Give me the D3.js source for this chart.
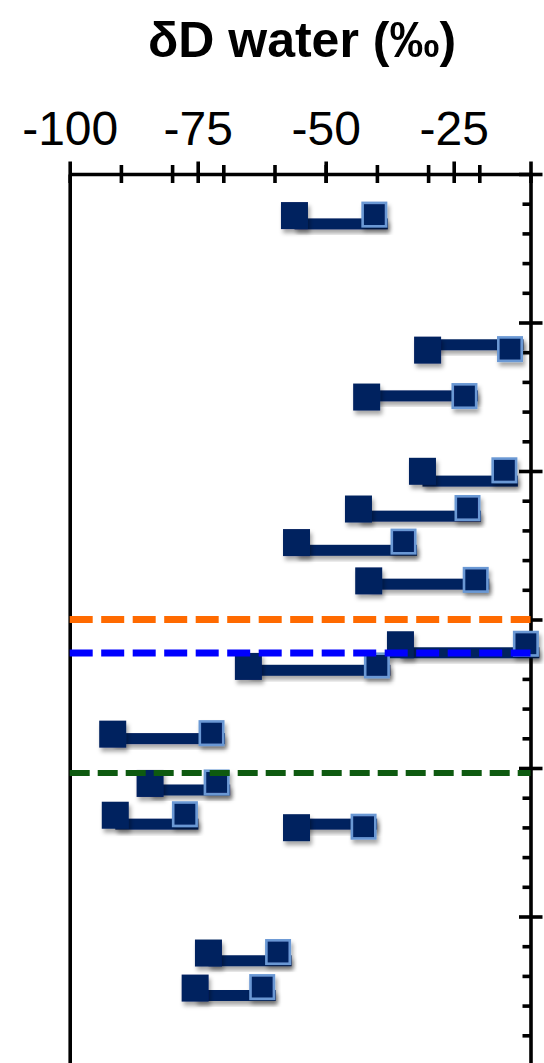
<!DOCTYPE html>
<html>
<head>
<meta charset="utf-8">
<script src="https://cdn.jsdelivr.net/npm/d3@7"></script>
<style>
  body { margin: 0; background: #fff; }
  svg { display: block; font-family: "Liberation Sans", Arial, Helvetica, sans-serif; }
</style>
</head>
<body>
<svg id="chart" width="544" height="1063"></svg>
<script>
// Sample depth of each pair (axis units, increasing downwards)
const depth    = [1.40, 5.93, 7.51, 10.01, 11.28, 12.41, 13.70, 15.85, 16.58, 18.86, 20.52, 21.59, 22.01, 26.23, 27.41];
// Depth at which the connecting bar of each pair sits
const barDepth = [1.68, 5.75, 7.47, 10.34, 11.52, 12.67, 13.81, 16.12, 16.71, 19.01, 20.74, 21.89, 21.89, 26.49, 27.66];
// δD of water (‰): first value of each pair (plain marker)
const dLow  = [-56.1, -30.1, -42.0, -31.1, -43.6, -55.7, -41.6, -35.4, -65.1, -91.6, -84.3, -91.1, -55.7, -72.9, -75.5];
// δD of water (‰): second value of each pair (outlined marker)
const dHigh = [-40.5, -14.0, -22.9, -15.1, -22.3, -34.8, -20.7, -10.9, -40.0, -72.3, -71.3, -77.5, -42.6, -59.3, -62.4];

// Horizontal reference levels
const refNames = ["orange", "blue", "green"];
const refDepth = [15.0, 16.13, 20.17];

// Axis ticks
const xDomain = [-100, -10];
const xMajorTicks = [-100, -75, -50, -25, -10];
const xMinorTicks = [-90, -80, -70, -60, -50, -40, -30, -20];
const xTickLabels = ["-100", "-75", "-50", "-25"];
const yDomain = [0, 30];
const yMajorTicks = [0, 5, 10, 15, 20, 25, 30];
const yMinorTicks = d3.range(1, 30).filter(v => v % 5 !== 0);

const title = "δD water (‰)";

// ---- layout & style ----
const svg = d3.select("#chart");
const plotLeft = 69.7, plotRight = 530.5, plotTop = 174, plotBottom = 1065;
const navy = "#03205f", edgeBlue = "#6a98d4";
const refColor = { orange: "#ff6a00", blue: "#0000ff", green: "#0e5a10" };
const refDash  = { orange: "23 8.5", blue: "23 8.5", green: "20 8" };
const refWidth = { orange: 7, blue: 7, green: 6 };

const x = d3.scaleLinear().domain(xDomain).range([plotLeft, plotRight]);
const y = d3.scaleLinear().domain(yDomain).range([plotTop, plotBottom]);

// soft drop shadow for the markers and bars
const defs = svg.append("defs");
const shadow = defs.append("filter").attr("id", "shadow")
  .attr("x", "-30%").attr("y", "-30%").attr("width", "160%").attr("height", "180%");
shadow.append("feDropShadow")
  .attr("dx", 2).attr("dy", 4).attr("stdDeviation", 2.2)
  .attr("flood-color", "#000").attr("flood-opacity", 0.35);

// Title
svg.append("text")
  .attr("x", 302).attr("y", 57)
  .attr("text-anchor", "middle")
  .attr("font-size", 50).attr("font-weight", "bold")
  .attr("fill", "#000")
  .text(title);

const axisStroke = 3.6;

// Top axis: minor ticks cross the line, major ticks reach higher
const gxMinor = svg.append("g").attr("transform", `translate(0,${plotTop})`)
  .call(d3.axisTop(x).tickValues(xMinorTicks).tickSize(0).tickSizeOuter(0).tickFormat(""));
gxMinor.select(".domain").attr("stroke", "#000").attr("stroke-width", axisStroke);
gxMinor.selectAll(".tick line").attr("y1", -9).attr("y2", 9)
  .attr("stroke", "#000").attr("stroke-width", axisStroke);

const gxMajor = svg.append("g").attr("transform", `translate(0,${plotTop})`)
  .call(d3.axisTop(x).tickValues(xMajorTicks).tickSize(0).tickSizeOuter(0)
    .tickFormat((d, i) => xTickLabels[i] || ""));
gxMajor.select(".domain").remove();
gxMajor.selectAll(".tick line").attr("y1", -12.5).attr("y2", 9)
  .attr("stroke", "#000").attr("stroke-width", axisStroke);
gxMajor.selectAll(".tick text")
  .attr("y", -29).attr("dy", 0)
  .attr("font-size", 48).attr("fill", "#000")
  .attr("font-family", "'Liberation Sans', Arial, Helvetica, sans-serif");

// Left axis: plain line
const gyLeft = svg.append("g").attr("transform", `translate(${plotLeft},0)`)
  .call(d3.axisLeft(y).tickValues([]).tickSizeOuter(0));
gyLeft.select(".domain").attr("stroke", "#000").attr("stroke-width", axisStroke);

// Right axis: minor ticks inside, major ticks across
const gyMinor = svg.append("g").attr("transform", `translate(${plotRight},0)`)
  .call(d3.axisRight(y).tickValues(yMinorTicks).tickSize(0).tickSizeOuter(0).tickFormat(""));
gyMinor.select(".domain").attr("stroke", "#000").attr("stroke-width", axisStroke);
gyMinor.selectAll(".tick line").attr("x1", -8).attr("x2", 0)
  .attr("stroke", "#000").attr("stroke-width", axisStroke);

const gyMajor = svg.append("g").attr("transform", `translate(${plotRight},0)`)
  .call(d3.axisRight(y).tickValues(yMajorTicks).tickSize(0).tickSizeOuter(0).tickFormat(""));
gyMajor.select(".domain").remove();
gyMajor.selectAll(".tick line").attr("x1", -11.5).attr("x2", 12)
  .attr("stroke", "#000").attr("stroke-width", axisStroke);

// Pairs: connecting bar, then the two markers
const pairs = depth.map((d, i) => ({ depth: d, bar: barDepth[i], lo: dLow[i], hi: dHigh[i] }));
const mk = 27;      // marker size
const barW = 11;    // bar thickness

const gPairs = svg.append("g");
gPairs.selectAll("rect.bar").data(pairs).join("rect")
  .attr("class", "bar")
  .attr("x", d => x(d.lo))
  .attr("y", d => y(d.bar) - barW / 2)
  .attr("width", d => x(d.hi) - x(d.lo) + mk / 2)
  .attr("height", barW)
  .attr("fill", navy)
  .attr("filter", "url(#shadow)");

gPairs.selectAll("rect.lo").data(pairs).join("rect")
  .attr("class", "lo")
  .attr("x", d => x(d.lo) - mk / 2)
  .attr("y", d => y(d.depth) - mk / 2)
  .attr("width", mk).attr("height", mk)
  .attr("fill", navy)
  .attr("filter", "url(#shadow)");

const sw = 2.6;
gPairs.selectAll("rect.hi").data(pairs).join("rect")
  .attr("class", "hi")
  .attr("x", d => x(d.hi) - (mk - sw) / 2 + 0.5)
  .attr("y", d => y(d.depth) - (mk - sw) / 2 - 0.5)
  .attr("width", mk - sw - 1).attr("height", mk - sw - 1)
  .attr("fill", navy)
  .attr("stroke", edgeBlue).attr("stroke-width", sw)
  .attr("filter", "url(#shadow)");

// Dashed reference levels
const refs = refNames.map((n, i) => ({ name: n, depth: refDepth[i] }));
svg.append("g").selectAll("line").data(refs).join("line")
  .attr("x1", plotLeft).attr("x2", plotRight)
  .attr("y1", d => y(d.depth)).attr("y2", d => y(d.depth))
  .attr("stroke", d => refColor[d.name])
  .attr("stroke-width", d => refWidth[d.name])
  .attr("stroke-dasharray", d => refDash[d.name]);
</script>
</body>
</html>
